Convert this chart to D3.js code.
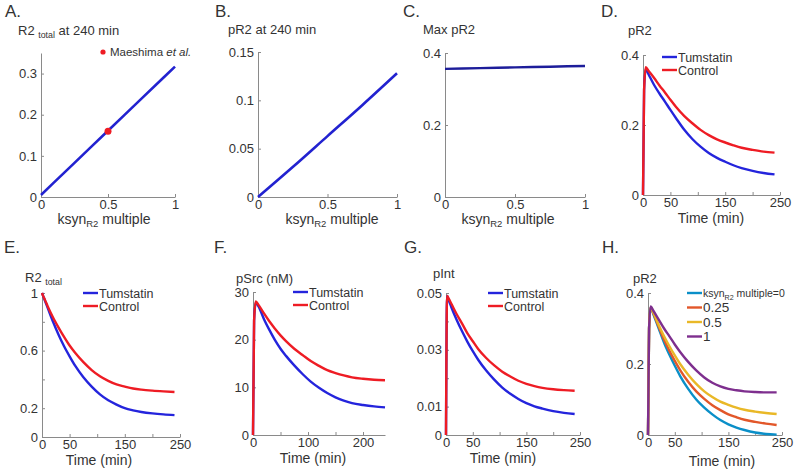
<!DOCTYPE html>
<html><head><meta charset="utf-8">
<script src="https://cdn.jsdelivr.net/npm/d3@7"></script>
<style>
body{margin:0;background:#fff}
svg text{font-family:"Liberation Sans",Arial,sans-serif;fill:#333}
</style>
</head><body>
<svg id="chart" width="800" height="470"></svg>
<script>
// ---------------- data ----------------
const ksyn = [0, 0.25, 0.5, 0.75, 1];
const r2TotalAt240 = [0.005, 0.083, 0.161, 0.239, 0.317];
const maeshimaX = [0.5];
const maeshimaY = [0.16];
const pR2At240 = [0.0, 0.031, 0.063, 0.095, 0.128];
const maxPR2 = [0.356, 0.358, 0.360, 0.362, 0.364];

const time = [0, 2, 5, 10, 20, 30, 40, 50, 60, 75, 90, 105, 120, 135, 150, 165, 180, 200, 220, 240];

const pR2Tumstatin = [0, 0.30, 0.36, 0.345, 0.315, 0.29, 0.267, 0.243, 0.22, 0.187, 0.16, 0.138, 0.12, 0.106, 0.095, 0.085, 0.077, 0.069, 0.063, 0.059];
const pR2Control   = [0, 0.30, 0.365, 0.355, 0.335, 0.313, 0.293, 0.272, 0.252, 0.226, 0.205, 0.186, 0.171, 0.159, 0.15, 0.142, 0.135, 0.129, 0.124, 0.121];

const r2TotTumstatin = [1, 0.98, 0.95, 0.9, 0.8, 0.71, 0.63, 0.56, 0.495, 0.415, 0.35, 0.296, 0.255, 0.225, 0.2, 0.185, 0.174, 0.164, 0.157, 0.152];
const r2TotControl   = [1, 0.98, 0.955, 0.91, 0.83, 0.76, 0.695, 0.635, 0.585, 0.52, 0.465, 0.422, 0.39, 0.365, 0.35, 0.337, 0.329, 0.322, 0.317, 0.313];

const pSrcTumstatin = [0, 24, 27.8, 27, 24.3, 22, 19.9, 18.1, 16.6, 14.6, 12.8, 11.2, 9.9, 8.8, 7.9, 7.2, 6.7, 6.3, 6.0, 5.8];
const pSrcControl   = [0, 24, 28, 27.3, 25.5, 23.8, 22.3, 20.9, 19.7, 18.1, 16.8, 15.5, 14.5, 13.6, 13.0, 12.5, 12.1, 11.8, 11.6, 11.5];

const pIntTumstatin = [0, 0.049, 0.0475, 0.045, 0.0405, 0.0365, 0.0328, 0.0295, 0.0265, 0.0227, 0.0195, 0.0167, 0.0145, 0.0127, 0.0112, 0.0101, 0.0093, 0.0084, 0.0078, 0.0074];
const pIntControl   = [0, 0.049, 0.048, 0.0462, 0.0425, 0.0392, 0.0358, 0.033, 0.0303, 0.0271, 0.0245, 0.0223, 0.0206, 0.0191, 0.018, 0.0172, 0.0166, 0.0161, 0.0158, 0.0156];

const pR2k0    = [0, 0.30, 0.36, 0.34, 0.30, 0.26, 0.226, 0.195, 0.166, 0.13, 0.10, 0.077, 0.058, 0.042, 0.03, 0.021, 0.014, 0.007, 0.003, 0.001];
const pR2k025  = [0, 0.30, 0.36, 0.343, 0.305, 0.268, 0.237, 0.209, 0.183, 0.15, 0.123, 0.102, 0.084, 0.07, 0.058, 0.05, 0.043, 0.037, 0.032, 0.028];
const pR2k05   = [0, 0.30, 0.36, 0.345, 0.31, 0.278, 0.25, 0.224, 0.20, 0.17, 0.144, 0.123, 0.107, 0.094, 0.085, 0.077, 0.071, 0.066, 0.062, 0.059];
const pR2k1    = [0, 0.30, 0.362, 0.35, 0.325, 0.30, 0.278, 0.255, 0.234, 0.206, 0.182, 0.162, 0.147, 0.137, 0.13, 0.126, 0.123, 0.121, 0.12, 0.12];
const hLegendLabels = ["0", "0.25", "0.5", "1"];
const seriesNames = ["Tumstatin", "Control"];

// ---------------- drawing ----------------
const svg = d3.select("#chart");
const BLUE = "#2424dc", RED = "#ee1c24";
const HCOL = ["#0a8fc8", "#e2572a", "#e9b827", "#7e2f8e"];
const AXC = "#8a8a8a";

function richText(g, x, y, parts, size, anchor) {
  const t = g.append("text").attr("x", x).attr("y", y)
    .attr("font-size", size).attr("text-anchor", anchor || "start");
  parts.forEach(p => {
    if (p.sub) {
      t.append("tspan").attr("font-size", size * 0.68).attr("dy", 3).text(p.t);
    } else {
      t.append("tspan").attr("dy", p.after ? -3 : 0).text(p.t);
    }
  });
  return t;
}

function panel(o) {
  const g = svg.append("g");
  const x = d3.scaleLinear().domain(o.xd).range([o.x0, o.x1]);
  const y = d3.scaleLinear().domain(o.yd).range([o.yb, o.yt]);
  const fmtX = v => o.xl.includes(v) ? String(v) : "";
  const fmtY = v => o.yl.includes(v) ? String(v) : "";
  const ax = g.append("g").attr("transform", `translate(0,${o.yb})`)
    .call(d3.axisBottom(x).tickValues(o.xt).tickSizeInner(-3).tickSizeOuter(0).tickPadding(3).tickFormat(fmtX));
  const ay = g.append("g").attr("transform", `translate(${o.x0},0)`)
    .call(d3.axisLeft(y).tickValues(o.yt2).tickSizeInner(-3).tickSizeOuter(0).tickPadding(4).tickFormat(fmtY));
  [ax, ay].forEach(a => {
    a.selectAll("path,line").attr("stroke", AXC);
    a.selectAll("text").attr("font-size", 13).attr("fill", "#333")
      .style("font-family", '"Liberation Sans",Arial,sans-serif');
  });
  g.append("text").attr("x", o.lx).attr("y", o.ly).attr("font-size", 17).text(o.letter);
  richText(g, o.tx, o.ty, o.title, 13);
  richText(g, o.xlx, o.xly, o.xlabel, 14, "middle");
  return {g, x, y};
}

function drawLine(p, xs, ys, color, w) {
  const line = d3.line().x((d, i) => p.x(xs[i])).y(d => p.y(d)).curve(d3.curveMonotoneX);
  p.g.append("path").datum(ys).attr("d", line).attr("fill", "none")
    .attr("stroke", color).attr("stroke-width", w || 2.4).attr("stroke-linejoin", "round");
}

function legend(p, lx, ly, entries, size, gap) {
  entries.forEach((e, i) => {
    const yy = ly + i * gap;
    p.g.append("line").attr("x1", lx).attr("x2", lx + 15).attr("y1", yy).attr("y2", yy)
      .attr("stroke", e.c).attr("stroke-width", 2.4);
    const parts = e.parts || [{t: e.t}];
    richText(p.g, lx + 16, yy + (e.s || size) * 0.36, parts, e.s || size);
  });
}

const ksynLabel = [{t: "ksyn"}, {t: "R2", sub: true}, {t: " multiple", after: true}];
const timeLabel = [{t: "Time (min)"}];
const tt = [0, 50, 100, 150, 200, 250];
const tl = [0, 50, 150, 250];

// A
const pA = panel({letter: "A.", lx: 5, ly: 17, x0: 41, x1: 175, yb: 197, yt: 53,
  xd: [0, 1], yd: [0, 0.35], xt: [0, 0.5, 1], xl: [0, 0.5, 1], yt2: [0, 0.1, 0.2, 0.3], yl: [0, 0.1, 0.2, 0.3],
  tx: 18, ty: 35, title: [{t: "R2 "}, {t: "total", sub: true}, {t: " at 240 min", after: true}],
  xlx: 104, xly: 224, xlabel: ksynLabel});
drawLine(pA, ksyn, r2TotalAt240, "#2222d0", 2.6);
pA.g.selectAll("circle.m").data(maeshimaY).enter().append("circle")
  .attr("cx", (d, i) => pA.x(maeshimaX[i])).attr("cy", d => pA.y(d)).attr("r", 3.5).attr("fill", RED);
pA.g.append("circle").attr("cx", 103).attr("cy", 52).attr("r", 2.6).attr("fill", RED);
const mt = pA.g.append("text").attr("x", 110).attr("y", 56).attr("font-size", 11.5);
mt.append("tspan").text("Maeshima ");
mt.append("tspan").attr("font-style", "italic").text("et al.");

// B
const pB = panel({letter: "B.", lx: 215, ly: 17, x0: 258, x1: 397, yb: 197, yt: 52,
  xd: [0, 1], yd: [0, 0.15], xt: [0, 0.5, 1], xl: [0, 0.5, 1], yt2: [0, 0.05, 0.1, 0.15], yl: [0, 0.05, 0.1, 0.15],
  tx: 228, ty: 34, title: [{t: "pR2 at 240 min"}],
  xlx: 332, xly: 224, xlabel: ksynLabel});
drawLine(pB, ksyn, pR2At240, "#2222d0", 2.6);

// C
const pC = panel({letter: "C.", lx: 403, ly: 17, x0: 445, x1: 585, yb: 197, yt: 53,
  xd: [0, 1], yd: [0, 0.4], xt: [0, 0.5, 1], xl: [0, 0.5, 1], yt2: [0, 0.2, 0.4], yl: [0, 0.2, 0.4],
  tx: 423, ty: 34, title: [{t: "Max pR2"}],
  xlx: 508, xly: 224, xlabel: ksynLabel});
drawLine(pC, ksyn, maxPR2, "#1d1d9a", 2.4);

// D
const pD = panel({letter: "D.", lx: 601, ly: 17, x0: 643, x1: 780, yb: 195, yt: 55,
  xd: [0, 250], yd: [0, 0.4], xt: tt, xl: tl, yt2: [0, 0.2, 0.4], yl: [0, 0.2, 0.4],
  tx: 628, ty: 35, title: [{t: "pR2"}],
  xlx: 711, xly: 223, xlabel: timeLabel});
drawLine(pD, time, pR2Tumstatin, BLUE);
drawLine(pD, time, pR2Control, RED);
legend(pD, 662, 57, [{t: seriesNames[0], c: BLUE}, {t: seriesNames[1], c: RED}], 12.5, 13);

// E
const pE = panel({letter: "E.", lx: 4, ly: 253, x0: 42, x1: 180, yb: 437, yt: 293,
  xd: [0, 250], yd: [0, 1], xt: tt, xl: tl, yt2: [0, 0.2, 0.4, 0.6, 0.8, 1], yl: [0, 0.2, 0.6, 1],
  tx: 25, ty: 282, title: [{t: "R2 "}, {t: "total", sub: true}],
  xlx: 99, xly: 465, xlabel: timeLabel});
drawLine(pE, time, r2TotTumstatin, BLUE);
drawLine(pE, time, r2TotControl, RED);
legend(pE, 83, 293, [{t: seriesNames[0], c: BLUE}, {t: seriesNames[1], c: RED}], 12.5, 13);

// F
const pF = panel({letter: "F.", lx: 214, ly: 253, x0: 253, x1: 385, yb: 435, yt: 292,
  xd: [0, 240], yd: [0, 30], xt: [0, 50, 100, 150, 200], xl: [0, 100, 200], yt2: [0, 10, 20, 30], yl: [0, 10, 20, 30],
  tx: 236, ty: 283, title: [{t: "pSrc (nM)"}],
  xlx: 313, xly: 463, xlabel: timeLabel});
drawLine(pF, time, pSrcTumstatin, BLUE);
drawLine(pF, time, pSrcControl, RED);
legend(pF, 293, 292, [{t: seriesNames[0], c: BLUE}, {t: seriesNames[1], c: RED}], 12.5, 13);

// G
const pG = panel({letter: "G.", lx: 404, ly: 253, x0: 446, x1: 580, yb: 435, yt: 293,
  xd: [0, 250], yd: [0, 0.05], xt: tt, xl: tl, yt2: [0, 0.01, 0.02, 0.03, 0.04, 0.05], yl: [0, 0.01, 0.03, 0.05],
  tx: 433, ty: 278, title: [{t: "pInt"}],
  xlx: 503, xly: 463, xlabel: timeLabel});
drawLine(pG, time, pIntTumstatin, BLUE);
drawLine(pG, time, pIntControl, RED);
legend(pG, 488, 293, [{t: seriesNames[0], c: BLUE}, {t: seriesNames[1], c: RED}], 12.5, 13);

// H
const pH = panel({letter: "H.", lx: 602, ly: 253, x0: 648, x1: 782, yb: 435, yt: 293,
  xd: [0, 250], yd: [0, 0.4], xt: tt, xl: tl, yt2: [0, 0.2, 0.4], yl: [0, 0.2, 0.4],
  tx: 633, ty: 283, title: [{t: "pR2"}],
  xlx: 722, xly: 466, xlabel: timeLabel});
[pR2k0, pR2k025, pR2k05, pR2k1].forEach((s, i) => drawLine(pH, time, s, HCOL[i]));
legend(pH, 687, 293, [
  {c: HCOL[0], s: 10.5, parts: [{t: "ksyn"}, {t: "R2", sub: true}, {t: " multiple=" + hLegendLabels[0], after: true}]},
  {c: HCOL[1], t: hLegendLabels[1], s: 13.5},
  {c: HCOL[2], t: hLegendLabels[2], s: 13.5},
  {c: HCOL[3], t: hLegendLabels[3], s: 13.5}
], 12, 14.5);
</script>
</body></html>
